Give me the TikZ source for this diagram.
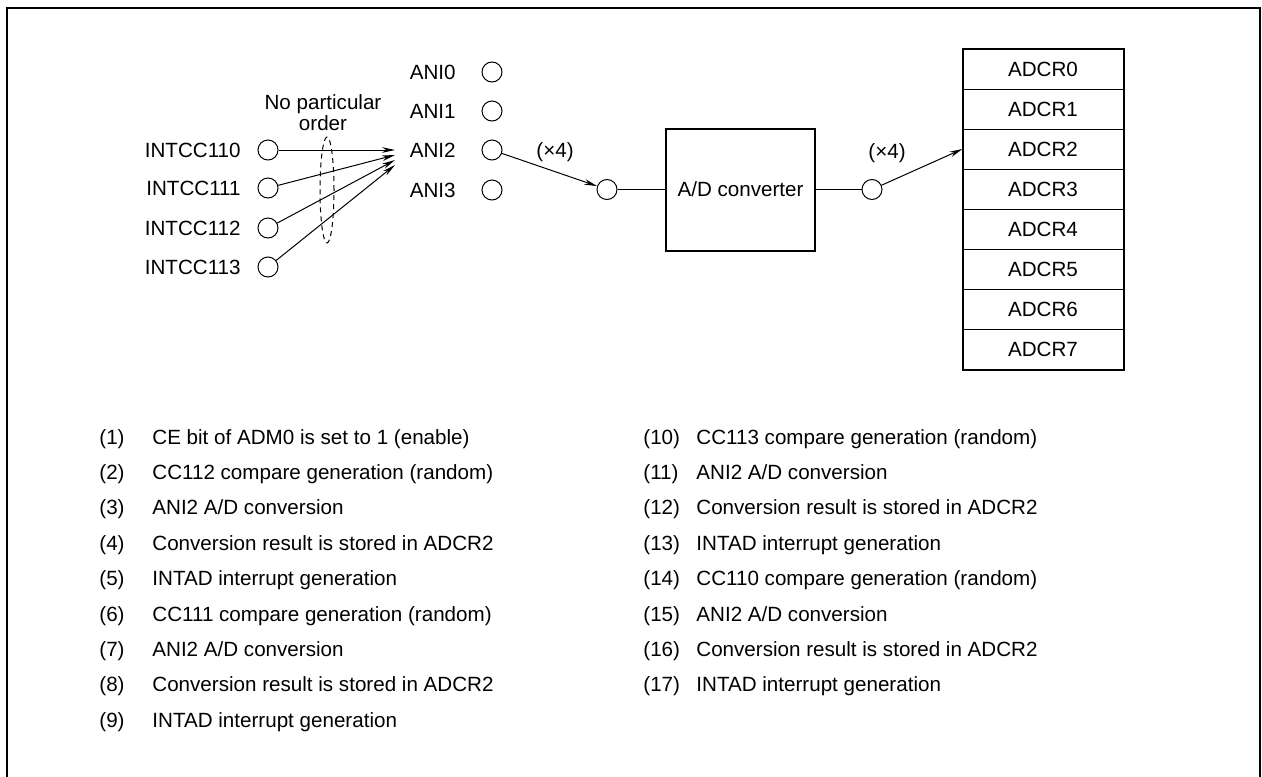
\documentclass[tikz,border=0pt]{standalone}
\usepackage{fontspec}
\setmainfont{Liberation Sans}
\usetikzlibrary{arrows.meta}

\tikzset{
  port/.style={draw,circle,minimum size=10pt,inner sep=0pt,line width=0.5pt},
  lbl/.style={font=\fontsize{10.3}{10.5}\selectfont,inner sep=0pt},
  link/.style={line width=0.5pt},
  feed/.style={line width=0.5pt,-{Stealth[length=6.5pt,width=2.8pt]}},
  regrow/.style={draw,line width=0.5pt,minimum width=80pt,minimum height=20pt,
                 inner sep=0pt,font=\fontsize{10.3}{10.5}\selectfont}
}

\begin{document}
\begin{tikzpicture}[x=0.5pt,y=-0.5pt]
  \useasboundingbox (0,0) rectangle (1262,776);
  \draw[line width=1pt] (7,800) -- (7,8) -- (1260,8) -- (1260,800);
  % analog input pins
  \foreach \i/\y in {0/72,1/111,2/150,3/190} {
    \node[port] (ani\i) at (492,\y) {};
    \node[lbl,anchor=base east] (lani\i) at (456,\y+7) {ANI\i};
  }
  % compare interrupt sources
  \foreach \i/\y/\t in {0/150/150,1/188/155,2/228/160,3/267/165} {
    \node[port] (cc\i) at (268,\y) {};
    \node[lbl,anchor=base east] (lcc\i) at (241,\y+7) {INTCC11\i};
    \coordinate (hit\i) at (395,\t);
    \draw[feed] (cc\i) -- (hit\i);
  }
  \draw[link,dash pattern=on 2.5pt off 2pt] (327,190) ellipse [x radius=3.5pt,y radius=26.5pt];
  \node[lbl,align=center] (order) at (323,113) {No particular\\order};
  % conversion path
  \node[port] (adin) at (607,189.5) {};
  \node[draw,line width=1pt,minimum width=74.5pt,minimum height=61pt,lbl] (adc)
    at (740.5,189.5) {A/D converter};
  \node[port] (adout) at (872,189.5) {};
  \node[lbl] (times1) at (555,152) {(×4)};
  \node[lbl] (times2) at (887,153) {(×4)};
  % result registers
  \foreach \i in {0,...,7}
    \node[regrow] (adcr\i) at (1043,{69+40*\i}) {ADCR\i};
  \draw[line width=1pt] (adcr0.north west) rectangle (adcr7.south east);
  \draw[feed] (ani2) -- (adin);
  \draw[link] (adin) -- (adc);
  \draw[link] (adc) -- (adout);
  \draw[feed] (adout) -- (adcr2.west);
  % sequence of events
  \foreach \t [count=\n] in {CE bit of ADM0 is set to 1 (enable),
      CC112 compare generation (random),ANI2 A/D conversion,
      Conversion result is stored in ADCR2,INTAD interrupt generation,
      CC111 compare generation (random),ANI2 A/D conversion,
      Conversion result is stored in ADCR2,INTAD interrupt generation} {
    \node[lbl,anchor=base west] (num\n) at (99,{444+35.4*(\n-1)}) {(\n)};
    \node[lbl,anchor=base west] (item\n) at (152,{444+35.4*(\n-1)}) {\t};
  }
  \foreach \t [count=\n from 10] in {CC113 compare generation (random),
      ANI2 A/D conversion,Conversion result is stored in ADCR2,
      INTAD interrupt generation,CC110 compare generation (random),
      ANI2 A/D conversion,Conversion result is stored in ADCR2,
      INTAD interrupt generation} {
    \node[lbl,anchor=base west] (num\n) at (643,{444+35.4*(\n-10)}) {(\n)};
    \node[lbl,anchor=base west] (item\n) at (696,{444+35.4*(\n-10)}) {\t};
  }
\end{tikzpicture}
\end{document}
